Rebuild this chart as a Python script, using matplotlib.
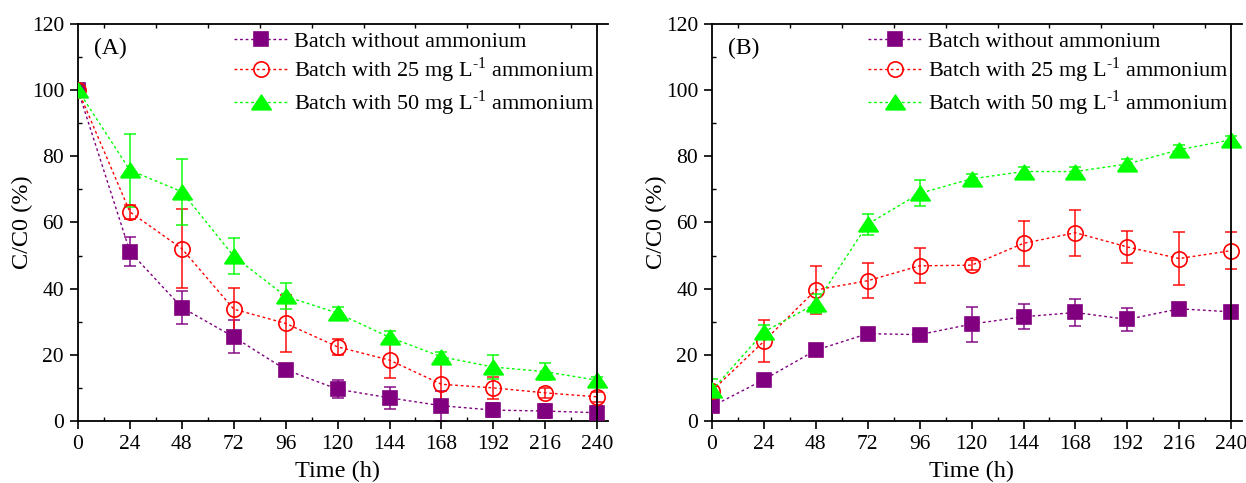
import numpy as np
import matplotlib.pyplot as plt
from matplotlib.ticker import MultipleLocator

plt.rcParams['font.family'] = ['Liberation Serif', 'DejaVu Serif']
plt.rcParams['mathtext.fontset'] = 'custom'
plt.rcParams['mathtext.rm'] = 'Liberation Serif'

time_h = [0, 24, 48, 72, 96, 120, 144, 168, 192, 216, 240]

# (A) remaining fraction
a_none = [100, 51.2, 34.3, 25.4, 15.5, 9.6, 7.0, 4.6, 3.3, 3.0, 2.5]
a_none_err = [0.5, 4.5, 5.0, 5.0, 1.0, 2.8, 3.3, 4.6, 2.0, 2.0, 2.0]
a_25 = [100, 63.2, 52.1, 33.8, 29.5, 22.4, 18.4, 11.1, 10.0, 8.5, 7.3]
a_25_err = [0.5, 2.0, 12.0, 6.5, 8.5, 2.4, 5.3, 6.7, 3.4, 1.5, 1.5]
a_50 = [100, 75.8, 69.3, 49.8, 37.7, 32.6, 25.3, 19.4, 16.3, 14.9, 12.3]
a_50_err = [0.5, 11.0, 10.0, 5.5, 4.0, 2.0, 2.0, 1.5, 3.5, 2.5, 1.0]

# (B) accumulated fraction
b_none = [4.4, 12.5, 21.4, 26.4, 26.1, 29.3, 31.5, 32.8, 30.7, 33.9, 33.0]
b_none_err = [1.0, 1.0, 1.0, 1.0, 1.0, 5.3, 3.8, 4.0, 3.4, 1.5, 1.0]
b_25 = [9.1, 24.1, 39.6, 42.4, 46.9, 47.1, 53.7, 56.9, 52.6, 49.1, 51.5]
b_25_err = [1.5, 6.4, 7.3, 5.3, 5.3, 1.5, 6.8, 7.0, 4.8, 7.9, 5.7]
b_50 = [9.3, 26.9, 35.5, 59.5, 68.8, 73.2, 75.4, 75.4, 77.7, 82.0, 85.0]
b_50_err = [3.5, 2.0, 3.0, 3.2, 3.9, 1.5, 1.5, 1.5, 1.5, 1.5, 1.0]

labels = ['Batch without ammonium',
          r'Batch with 25 mg L$^{\text{-1}}$ ammonium',
          r'Batch with 50 mg L$^{\text{-1}}$ ammonium']
colors = ['#800080', '#FF0000', '#00FF00']
# wide, flat triangle like the Origin default
flat_tri = [(-1, -0.75), (1, -0.75), (0, 0.75), (-1, -0.75)]
markers = ['s', 'o', flat_tri]
sizes = [10, 11, 14]

fig = plt.figure(figsize=(12.46, 4.83), dpi=100)
ax_a = fig.add_axes([0.0626, 0.1284, 0.4254, 0.8219])
ax_b = fig.add_axes([0.5714, 0.1284, 0.4254, 0.8219])


def draw_panel(ax, series, tag):
    for (y, err), lab, c, m, ms in zip(series, labels, colors, markers, sizes):
        face = 'none' if m == 'o' else c
        ax.errorbar(time_h, y, yerr=err, fmt='none', ecolor=c, alpha=0.8,
                    elinewidth=1.3, capsize=4, capthick=1.3, zorder=2)
        ax.plot(time_h, y, color=c, ls=(0, (2, 2)), lw=1.0,
                marker=m, ms=ms, mfc=face, mec=c, mew=1.2,
                label=lab, zorder=3)
    ax.set_xlim(0, 245)
    ax.set_ylim(0, 120)
    ax.axvline(240, color='k', lw=1.3, zorder=4)
    ax.spines['right'].set_visible(False)
    for s in ['left', 'bottom', 'top']:
        ax.spines[s].set_linewidth(1.3)
    ax.xaxis.set_major_locator(MultipleLocator(24))
    ax.xaxis.set_minor_locator(MultipleLocator(12))
    ax.yaxis.set_major_locator(MultipleLocator(20))
    ax.yaxis.set_minor_locator(MultipleLocator(10))
    ax.tick_params(which='major', direction='out', length=6, width=1.2,
                   labelsize=15.5, top=False, pad=4)
    ax.tick_params(which='minor', direction='in', length=3, width=1.0,
                   top=True)
    ax.set_xlabel('Time (h)', fontsize=17.5)
    ax.set_ylabel('C/C0 (%)', fontsize=17.5)
    ax.xaxis.set_label_coords(0.49, -0.1)
    ax.yaxis.set_label_coords(-0.085, 0.5)
    ax.text(0.03, 0.965, tag, transform=ax.transAxes, fontsize=17,
            va='top', ha='left')
    ax.legend(loc='upper left', bbox_to_anchor=(0.265, 1.02), frameon=False,
              fontsize=16, handlelength=2.4, handletextpad=0.3,
              labelspacing=0.15, borderaxespad=0.3)


draw_panel(ax_a, [(a_none, a_none_err), (a_25, a_25_err), (a_50, a_50_err)], '(A)')
draw_panel(ax_b, [(b_none, b_none_err), (b_25, b_25_err), (b_50, b_50_err)], '(B)')

fig.savefig('out.png', dpi=100)
